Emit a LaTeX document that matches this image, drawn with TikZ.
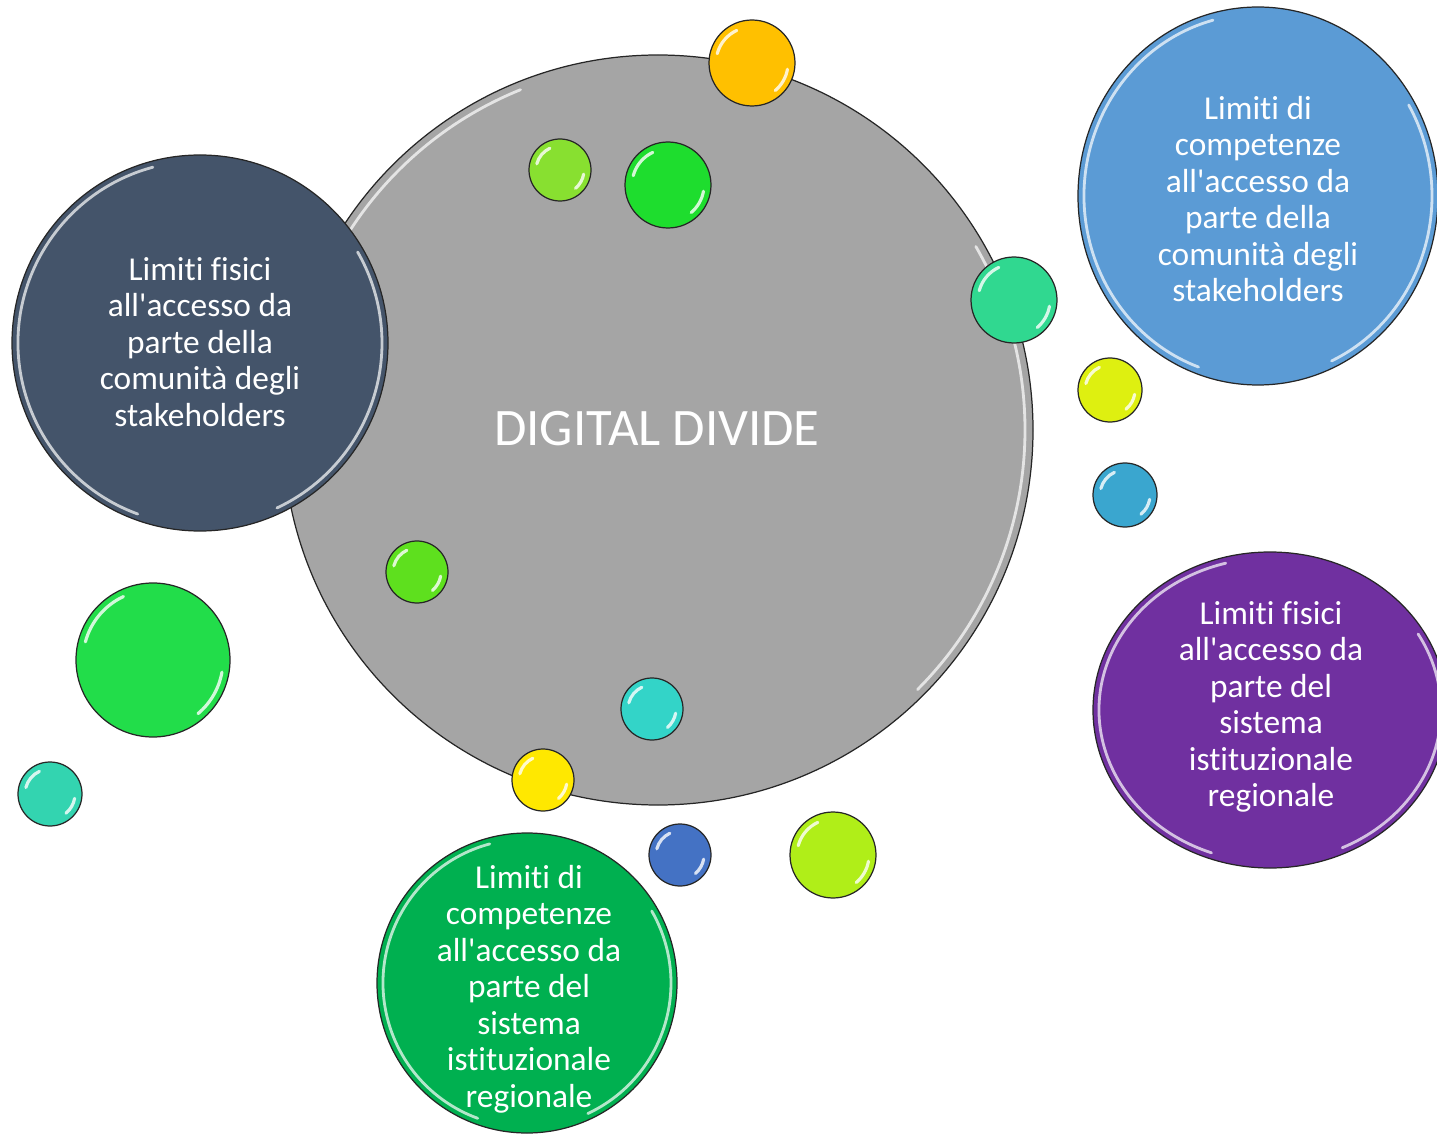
\documentclass[tikz,border=0pt]{standalone}
\usepackage{fontspec}
\setmainfont{Carlito}[Ligatures={TeXOff,NoCommon}]
\usetikzlibrary{shapes.geometric}

\definecolor{divgray}{HTML}{A5A5A5}
\definecolor{navyfill}{HTML}{44546A}
\definecolor{bluefill}{HTML}{5B9BD5}
\definecolor{purplefill}{HTML}{7030A0}
\definecolor{greenfill}{HTML}{00B050}
\definecolor{bOrange}{HTML}{FFC000}
\definecolor{bLimeA}{HTML}{88E030}
\definecolor{bGreenA}{HTML}{1EDD2E}
\definecolor{bTealA}{HTML}{30D890}
\definecolor{bYellowA}{HTML}{DEF010}
\definecolor{bSky}{HTML}{3AA6CF}
\definecolor{bLimeB}{HTML}{5EE01E}
\definecolor{bGreenB}{HTML}{22DD4A}
\definecolor{bTealB}{HTML}{33D4B0}
\definecolor{bCyan}{HTML}{33D4C8}
\definecolor{bYellowB}{HTML}{FFE800}
\definecolor{bBlue}{HTML}{4472C4}
\definecolor{bLimeC}{HTML}{B0EE18}

\begin{document}
\begin{tikzpicture}[
  x=0.02cm, y=0.02cm,
  blob/.style={circle, draw=black!85, line width=0.7pt, inner sep=0pt},
  oval/.style={ellipse, draw=black!85, line width=0.7pt, inner sep=0pt},
  caption/.style={text=white, align=center, font=\fontsize{19}{20.8}\selectfont},
  shine/.style={white, opacity=0.7, line width=1.6pt, line cap=round},
  gloss/.style={white, opacity=0.8, line width=1.8pt, line cap=round}
]
\useasboundingbox (0,0) rectangle (1437,-1138);

% central circle
\node[blob, fill=divgray, minimum size={750*0.02cm}] (divide) at (658,-430) {};
\draw[shine] (divide.center) ++(112:367) arc[start angle=112, end angle=150, radius=367];
\draw[shine] (divide.center) ++(-45:367) arc[start angle=-45, end angle=30, radius=367];
\node[text=white, font=\fontsize{30}{36}\selectfont] (title) at (657,-429) {DIGITAL DIVIDE};

% the four themes
\node[blob, fill=navyfill, minimum size={376*0.02cm}] (fisStake) at (200,-343) {};
\draw[shine] (fisStake.center) ++(105:182) arc[start angle=105, end angle=250, radius=182];
\draw[shine] (fisStake.center) ++(-65:182) arc[start angle=-65, end angle=30, radius=182];
\node[caption] at (200,-342) {Limiti fisici\\all'accesso da\\parte della\\comunità degli\\stakeholders};

\node[oval, fill=bluefill, minimum width={360*0.02cm}, minimum height={378*0.02cm}] (compStake) at (1258,-196) {};
\draw[shine] (compStake.center) ++(105:174 and 182) arc[start angle=105, end angle=250, x radius=174, y radius=182];
\draw[shine] (compStake.center) ++(-65:174 and 182) arc[start angle=-65, end angle=30, x radius=174, y radius=182];
\node[caption] at (1258,-199) {Limiti di\\competenze\\all'accesso da\\parte della\\comunità degli\\stakeholders};

\node[oval, fill=purplefill, minimum width={354*0.02cm}, minimum height={316*0.02cm}] (fisIst) at (1270,-710) {};
\draw[shine] (fisIst.center) ++(105:171 and 152) arc[start angle=105, end angle=250, x radius=171, y radius=152];
\draw[shine] (fisIst.center) ++(-65:171 and 152) arc[start angle=-65, end angle=30, x radius=171, y radius=152];
\node[caption] at (1271,-707) {Limiti fisici\\all'accesso da\\parte del\\sistema\\istituzionale\\regionale};

\node[blob, fill=greenfill, minimum size={300*0.02cm}] (compIst) at (527,-983) {};
\draw[shine] (compIst.center) ++(105:144) arc[start angle=105, end angle=250, radius=144];
\draw[shine] (compIst.center) ++(-65:144) arc[start angle=-65, end angle=30, radius=144];
\node[caption] at (529,-989) {Limiti di\\competenze\\all'accesso da\\parte del\\sistema\\istituzionale\\regionale};

% bubbles
\foreach \n/\x/\y/\r/\c in {orange/752/63/43/bOrange, limeA/560/170/31/bLimeA,
    greenA/668/185/43/bGreenA, tealA/1014/300/43/bTealA, yellowA/1110/390/32/bYellowA,
    sky/1125/495/32/bSky, limeB/417/572/31/bLimeB, greenB/153/660/77/bGreenB,
    tealB/50/794/32/bTealB, cyan/652/709/31/bCyan, yellowB/543/780/31/bYellowB,
    blue/680/855/31/bBlue, limeC/833/855/43/bLimeC} {
  \node[blob, fill=\c, minimum size={2*\r*0.02cm}] (\n) at (\x,-\y) {};
  \draw[gloss] (\n.center) ++(115:\r-7) arc[start angle=115, end angle=165, radius=\r-7];
  \draw[gloss] (\n.center) ++(-50:\r-7) arc[start angle=-50, end angle=-10, radius=\r-7];
}
\end{tikzpicture}
\end{document}
